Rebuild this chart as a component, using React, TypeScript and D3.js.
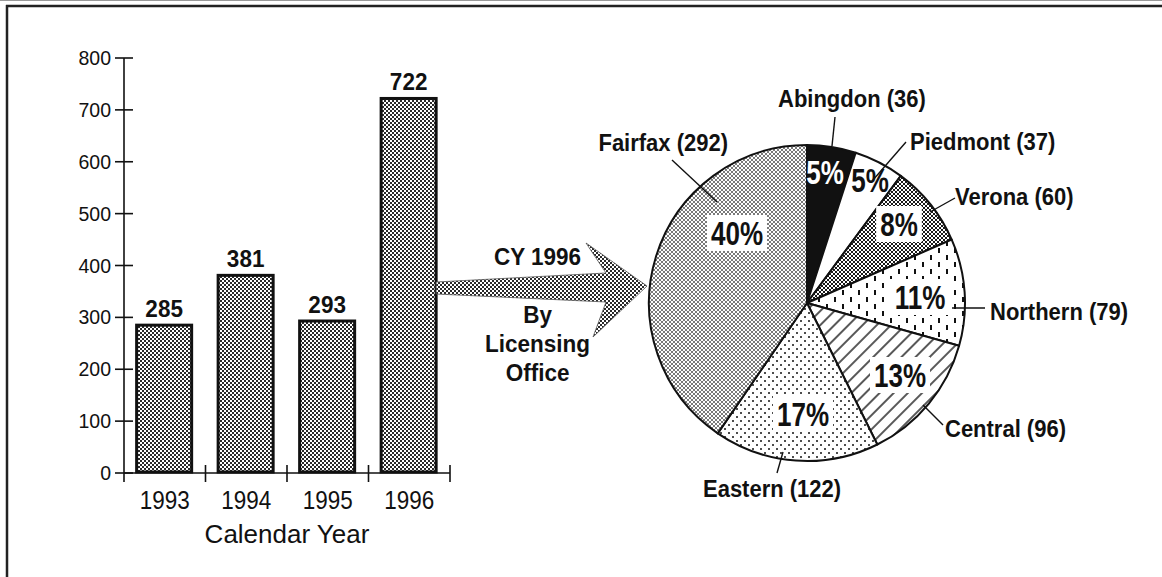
import React from "react";
import * as d3 from "d3";

// yearly totals (bar chart)
const years = ["1993", "1994", "1995", "1996"];
const yearTotals = [285, 381, 293, 722];
const yTicks = [0, 100, 200, 300, 400, 500, 600, 700, 800];

// CY 1996 by licensing office (pie), clockwise from 12 o'clock
const offices = ["Abingdon", "Piedmont", "Verona", "Northern", "Central", "Eastern", "Fairfax"];
const officeCounts = [36, 37, 60, 79, 96, 122, 292];
const officePercents = ["5%", "5%", "8%", "11%", "13%", "17%", "40%"];

const officeFills = ["#111", "#fff", "url(#pVerona)", "url(#pNorthern)", "url(#pCentral)", "url(#pEastern)", "url(#pFairfax)"];

// label layout, offsets from the pie centre
interface LabelPos {
  lx: number; ly: number; anchor: string;
  o: [number, number]; i: [number, number];
  p: [number, number]; box: boolean; pct: string;
}
const labelLayout: LabelPos[] = [
  { lx: -29, ly: -196, anchor: "start", o: [28, -186], i: [25, -157], p: [18, -131], box: false, pct: "#fff" },
  { lx: 103, ly: -153, anchor: "start", o: [99, -161], i: [66, -123], p: [63, -123], box: false, pct: "#111" },
  { lx: 148, ly: -98, anchor: "start", o: [148, -105], i: [123, -91], p: [92, -79], box: true, pct: "#111" },
  { lx: 183, ly: 17, anchor: "start", o: [178, 5], i: [145, 5], p: [113, -6], box: true, pct: "#111" },
  { lx: 138, ly: 134, anchor: "start", o: [136, 122], i: [116, 102], p: [93, 72], box: true, pct: "#111" },
  { lx: -104, ly: 194, anchor: "start", o: [-30, 170], i: [-24, 149], p: [-4, 111], box: true, pct: "#111" },
  { lx: -79, ly: -152, anchor: "end", o: [-135, -143], i: [-90, -101], p: [-70, -70], box: true, pct: "#111" },
];

const FONT = "'Liberation Sans', Arial, Helvetica, sans-serif";

const T = ({ x, y, size, sy = 1, weight = "bold", anchor = "middle", fill = "#111", children }: any) => (
  <text
    transform={`translate(${x},${y}) scale(1,${sy})`}
    fontSize={size}
    fontWeight={weight}
    textAnchor={anchor}
    fill={fill}
    fontFamily={FONT}
  >
    {children}
  </text>
);

export default function App() {
  const W = 1162, H = 577;

  // bar chart scales
  const x = d3.scaleBand<string>().domain(years).range([124, 450]).padding(0);
  const y = d3.scaleLinear().domain([0, 800]).range([473, 58]);
  const step = x.bandwidth();
  const barOff = step * 0.155;
  const barW = step * 0.675;

  // pie
  const cx = 807, cy = 303, R = 158;
  const pie = d3.pie<number>().sort(null).value((d) => d).startAngle(0).endAngle(2 * Math.PI);
  const arcs = pie(officeCounts);
  const arc = d3.arc<d3.PieArcDatum<number>>().innerRadius(0).outerRadius(R);

  // fat arrow from the 1996 bar to the pie
  const bx1 = (x("1996") as number) + barOff + barW;
  const tip = cx - R - 2;
  const ay = 288;
  const arrowPts: [number, number][] = [
    [bx1, ay - 6], [tip - 41, ay - 15], [tip - 61, ay - 45], [tip, ay - 2],
    [tip - 54, ay + 49], [tip - 41, ay + 14], [bx1, ay + 6],
  ];
  const arrowMid = (bx1 + tip) / 2 - 4;

  return (
    <svg width={W} height={H} style={{ position: "absolute", left: 0, top: 0, display: "block", background: "#fff" }}>
      <defs>
        <pattern id="pDark" width={4} height={4} patternUnits="userSpaceOnUse">
          <rect width={4} height={4} fill="#fff" />
          <rect width={2} height={2} fill="#2a2a2a" />
          <rect x={2} y={2} width={2} height={2} fill="#2a2a2a" />
        </pattern>
        <pattern id="pVerona" width={4} height={4} patternUnits="userSpaceOnUse">
          <rect width={4} height={4} fill="#fff" />
          <rect width={2} height={2} fill="#1a1a1a" />
          <rect x={2} y={2} width={2} height={2} fill="#1a1a1a" />
        </pattern>
        <pattern id="pFairfax" width={4} height={4} patternUnits="userSpaceOnUse">
          <rect width={4} height={4} fill="#fff" />
          <rect width={2} height={2} fill="#7a7a7a" />
          <rect x={2} y={2} width={2} height={2} fill="#7a7a7a" />
        </pattern>
        <pattern id="pNorthern" width={16} height={14} patternUnits="userSpaceOnUse">
          <rect width={16} height={14} fill="#fff" />
          <rect x={3} y={1} width={2} height={5} fill="#111" />
          <rect x={11} y={8} width={2} height={5} fill="#111" />
        </pattern>
        <pattern id="pCentral" width={10} height={10} patternUnits="userSpaceOnUse" patternTransform="rotate(45)">
          <rect width={10} height={10} fill="#fff" />
          <line x1={5} y1={0} x2={5} y2={10} stroke="#111" strokeWidth={1.4} />
        </pattern>
        <pattern id="pEastern" width={8} height={8} patternUnits="userSpaceOnUse">
          <rect width={8} height={8} fill="#fff" />
          <circle cx={2} cy={2} r={1} fill="#111" />
          <circle cx={6} cy={6} r={1} fill="#111" />
        </pattern>
      </defs>

      {/* frame */}
      <line x1={0} y1={0.5} x2={W} y2={0.5} stroke="#999" strokeWidth={1} />
      <line x1={6} y1={6} x2={W} y2={6} stroke="#222" strokeWidth={2.5} />
      <line x1={7} y1={5} x2={7} y2={H} stroke="#222" strokeWidth={2.5} />

      {/* y axis */}
      <line x1={124} y1={y(800)} x2={124} y2={482} stroke="#111" strokeWidth={1.6} />
      {yTicks.map((t) => (
        <g key={t}>
          <line x1={115} x2={133} y1={y(t)} y2={y(t)} stroke="#111" strokeWidth={1.6} />
          <T x={111} y={y(t) + 7} size={19.5} weight="normal" anchor="end" sy={1.02}>{t}</T>
        </g>
      ))}

      {/* bars */}
      {years.map((yr, i) => (
        <g key={yr}>
          <rect
            x={(x(yr) as number) + barOff}
            y={y(yearTotals[i])}
            width={barW}
            height={y(0) - y(yearTotals[i]) - 1}
            fill="url(#pDark)"
            stroke="#111"
            strokeWidth={3}
          />
          <T x={(x(yr) as number) + barOff + barW / 2} y={y(yearTotals[i]) - 8} size={22.5} sy={1.08}>
            {yearTotals[i]}
          </T>
        </g>
      ))}

      {/* x axis */}
      <line x1={124} y1={y(0)} x2={450} y2={y(0)} stroke="#111" strokeWidth={1.6} />
      {years.map((yr) => (
        <g key={yr}>
          <line x1={(x(yr) as number) + step} x2={(x(yr) as number) + step} y1={465} y2={482} stroke="#111" strokeWidth={1.6} />
          <T x={(x(yr) as number) + step / 2} y={509} size={22.5} weight="normal" sy={1.18}>{yr}</T>
        </g>
      ))}
      <T x={287} y={543} size={26} weight="normal" sy={0.98}>Calendar Year</T>

      {/* arrow */}
      <polygon points={arrowPts.map((p) => p.join(",")).join(" ")} fill="url(#pDark)" stroke="#555" strokeWidth={0.8} />
      <T x={arrowMid} y={265} size={22.5} sy={1.05}>CY 1996</T>
      <T x={arrowMid} y={323} size={22.5} sy={1.05}>By</T>
      <T x={arrowMid} y={352} size={22.5} sy={1.05}>Licensing</T>
      <T x={arrowMid} y={381} size={22.5} sy={1.05}>Office</T>

      {/* pie */}
      <g transform={`translate(${cx},${cy})`}>
        {arcs.map((a, i) => (
          <path key={offices[i]} d={arc(a) as string} fill={officeFills[i]} stroke="#111" strokeWidth={2} strokeLinejoin="round" />
        ))}
        {arcs.map((a, i) => {
          const L = labelLayout[i];
          const fs = 26;
          const tw = officePercents[i].length === 2 ? fs * 1.45 : fs * 2.0;
          return (
            <g key={"p" + offices[i]}>
              {L.box && <rect x={L.p[0] - tw / 2 - 4} y={L.p[1] - 18} width={tw + 8} height={36} fill="#fff" />}
              <T x={L.p[0]} y={L.p[1] + 12} size={fs} sy={1.28} fill={L.pct}>{officePercents[i]}</T>
            </g>
          );
        })}
        {arcs.map((a, i) => {
          const L = labelLayout[i];
          return (
            <g key={"l" + offices[i]}>
              <line x1={L.o[0]} y1={L.o[1]} x2={L.i[0]} y2={L.i[1]} stroke="#111" strokeWidth={1.4} />
              <T x={L.lx} y={L.ly} size={22} sy={1.06} anchor={L.anchor}>
                {`${offices[i]} (${officeCounts[i]})`}
              </T>
            </g>
          );
        })}
      </g>
    </svg>
  );
}
